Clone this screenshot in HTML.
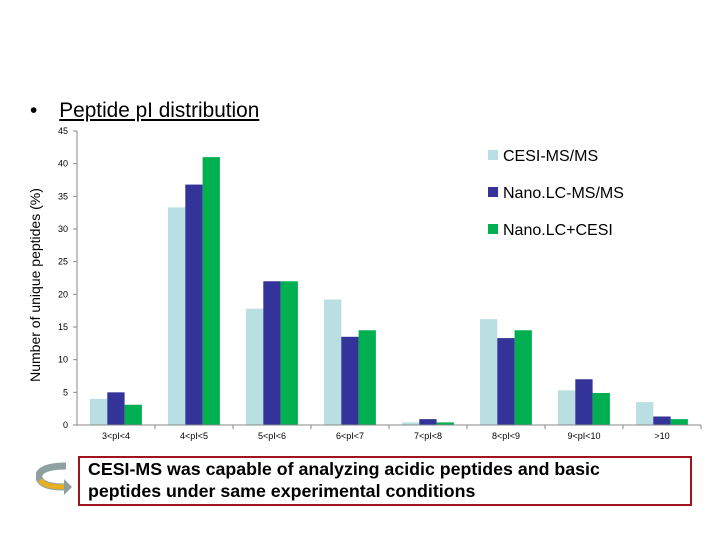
<!DOCTYPE html>
<html><head><meta charset="utf-8"><style>
body{margin:0;width:720px;height:540px;background:#fff;overflow:hidden;position:relative;font-family:"Liberation Sans",sans-serif}
#title{position:absolute;left:30px;top:99px;font-size:20.8px;color:#000}
#title u{margin-left:22px}
#note{position:absolute;left:78px;top:456px;height:46px;border:2px solid #a0141e;font-weight:bold;font-size:17.8px;line-height:22px;padding:0 0 0 8px;width:602px}
</style></head><body>
<div id="title">•<u>Peptide pI distribution</u></div>
<svg id="chart" width="720" height="540" style="position:absolute;left:0;top:0"></svg>
<svg width="40" height="40" style="position:absolute;left:36px;top:460px">
<path d="M30 6 C5 6 0 14 4 20 C8 26 18 27 28 27" fill="none" stroke="#8fa0a0" stroke-width="7"/>
<path d="M4 20 C8 26 18 27 28 27" fill="none" stroke="#e8b020" stroke-width="5"/>
<polygon points="28,19 36,27 28,35" fill="#8fa0a0"/>
</svg>
<div id="note">CESI-MS was capable of analyzing acidic peptides and basic<br>peptides under same experimental conditions</div>
<script>
const categories=["3<pI<4","4<pI<5","5<pI<6","6<pI<7","7<pI<8","8<pI<9","9<pI<10",">10"];
const cesi=[4,33.3,17.8,19.2,0.4,16.2,5.3,3.5];
const nano=[5,36.8,22,13.5,0.9,13.3,7,1.3];
const comb=[3.1,41,22,14.5,0.4,14.5,4.9,0.9];
const yTicks=[0,5,10,15,20,25,30,35,40,45];
const seriesNames=["CESI-MS/MS","Nano.LC-MS/MS","Nano.LC+CESI"];
const colors=["#b9dfe3","#333399","#00b050"];
const NS="http://www.w3.org/2000/svg";
const svg=document.getElementById('chart');
const x0=77,band=78,y0=425,y45=131;
const y=v=>y0-(v/45)*(y0-y45);
function el(t,a){const e=document.createElementNS(NS,t);for(const k in a)e.setAttribute(k,a[k]);svg.appendChild(e);return e;}
[cesi,nano,comb].forEach((s,si)=>{s.forEach((v,i)=>{
const r=el('rect',{x:x0+i*band+13+si*17.3,y:y(v),width:17.3,height:y0-y(v),fill:colors[si]});


});});
const ax=el('line',{x1:x0,y1:y45,x2:x0,y2:y0,stroke:'#888'});

const bx=el('line',{x1:x0,y1:y0,x2:x0+8*band,y2:y0,stroke:'#888'});

yTicks.forEach(t=>{
el('line',{x1:x0-4,x2:x0,y1:y(t),y2:y(t),stroke:'#888'});
const tx=el('text',{x:x0-9,y:y(t)+3,'font-size':9,'text-anchor':'end',fill:'#000'});tx.textContent=t;

});
categories.forEach((c,i)=>{
el('line',{x1:x0+(i+1)*band,x2:x0+(i+1)*band,y1:y0,y2:y0+4,stroke:'#888'});
const tx=el('text',{x:x0+i*band+band/2,y:y0+14,'font-size':9,'text-anchor':'middle',fill:'#000'});tx.textContent=c;

});
const yt=el('text',{x:40,y:285,'font-size':14,'text-anchor':'middle',fill:'#000',transform:'rotate(-90 40 285)'});
yt.textContent='Number of unique peptides (%)';

seriesNames.forEach((n,i)=>{
const ly=155+i*37;
el('rect',{x:488,y:ly-5,width:10,height:10,fill:colors[i]});
const tx=el('text',{x:503,y:ly+6,'font-size':16,fill:'#000'});tx.textContent=n;

});
</script>
</body></html>
